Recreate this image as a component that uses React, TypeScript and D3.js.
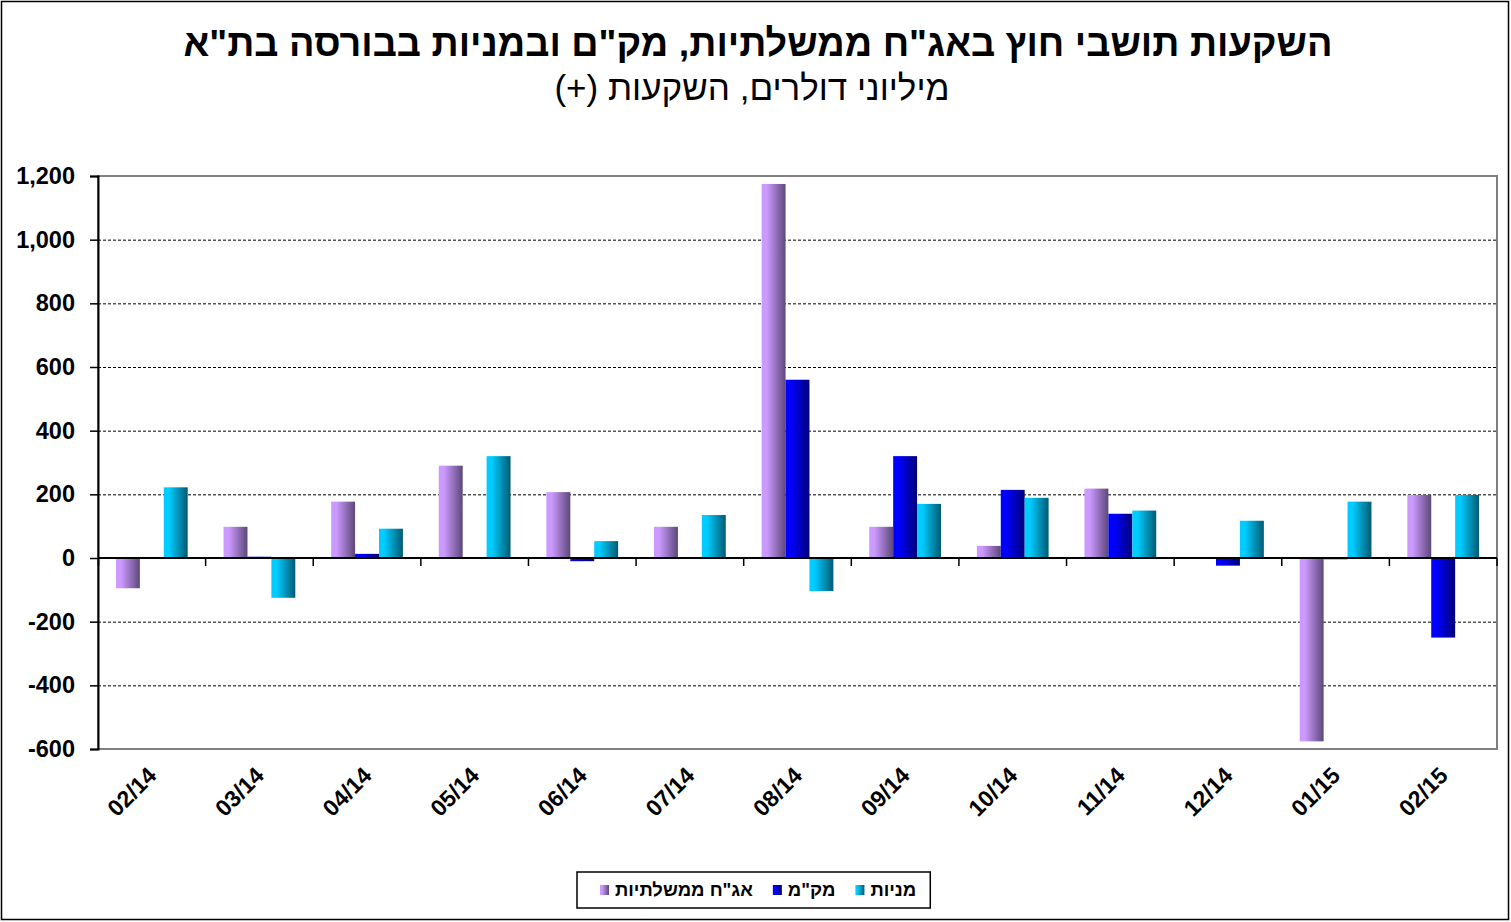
import { useEffect, useRef } from "react";
import * as d3 from "d3";

// Foreign residents' investment in TASE: gov bonds, makam, shares (USD mn)
const MONTHS = ["02/14", "03/14", "04/14", "05/14", "06/14", "07/14", "08/14", "09/14", "10/14", "11/14", "12/14", "01/15", "02/15"];
const GOV_BONDS = [-95, 98, 177, 290, 207, 98, 1175, 98, 38, 218, 3, -576, 198];
const MAKAM = [0, 4, 13, 0, -10, 0, 560, 320, 214, 139, -24, -4, -250];
const SHARES = [222, -125, 92, 320, 53, 135, -104, 170, 189, 149, 117, 177, 198];
const Y_TICKS = [-600, -400, -200, 0, 200, 400, 600, 800, 1000, 1200];

const TITLE = 'השקעות תושבי חוץ באג"ח ממשלתיות, מק"ם ובמניות בבורסה בת"א';
const SUBTITLE = "מיליוני דולרים, השקעות (+)";

const SERIES = [
  { key: "gov", label: 'אג"ח ממשלתיות', values: GOV_BONDS, light: "#cc99ff", dark: "#5c4878" },
  { key: "makam", label: 'מק"מ', values: MAKAM, light: "#0000ff", dark: "#00007a" },
  { key: "shares", label: "מניות", values: SHARES, light: "#00ccff", dark: "#005a72" },
];

const FONT = "'Liberation Sans', Arial, 'DejaVu Sans', sans-serif";

export default function App() {
  const svgRef = useRef<SVGSVGElement | null>(null);

  useEffect(() => {
    const svg = d3.select(svgRef.current);
    svg.selectAll("*").remove();
    const W = 1511;
    const H = 922;
    const plot = { left: 98, right: 1497, top: 176, bottom: 749 };

    svg.attr("viewBox", `0 0 ${W} ${H}`).style("font-family", FONT);

    const defs = svg.append("defs");
    SERIES.forEach((s) => {
      const lg = defs.append("linearGradient").attr("id", `grad-${s.key}`).attr("x1", 0).attr("x2", 1).attr("y1", 0).attr("y2", 0);
      lg.append("stop").attr("offset", "0").attr("stop-color", s.light);
      lg.append("stop").attr("offset", "0.22").attr("stop-color", s.light);
      lg.append("stop").attr("offset", "1").attr("stop-color", s.dark);
    });

    svg.append("rect").attr("width", W).attr("height", H).attr("fill", "#fff");
    svg
      .append("rect")
      .attr("x", 1.5)
      .attr("y", 1.5)
      .attr("width", W - 4)
      .attr("height", H - 4)
      .attr("fill", "none")
      .attr("stroke", "#000")
      .attr("stroke-width", 1.5);

    // titles
    svg
      .append("text")
      .attr("x", 758)
      .attr("y", 56)
      .attr("text-anchor", "middle")
      .attr("direction", "rtl")
      .attr("font-size", 37.8)
      .attr("font-weight", "bold")
      .text(TITLE);
    svg
      .append("text")
      .attr("x", 752)
      .attr("y", 100)
      .attr("text-anchor", "middle")
      .attr("direction", "rtl")
      .attr("font-size", 35)
      .text(SUBTITLE);

    const x = d3.scaleBand<string>().domain(MONTHS).range([plot.left, plot.right]);
    const xs = d3
      .scaleBand<string>()
      .domain(SERIES.map((s) => s.key))
      .range([0, x.bandwidth()])
      .paddingOuter(0.75);
    const y = d3.scaleLinear().domain([-600, 1200]).range([plot.bottom, plot.top]);

    // plot frame (gray top/right/bottom)
    svg
      .append("rect")
      .attr("x", plot.left)
      .attr("y", plot.top)
      .attr("width", plot.right - plot.left)
      .attr("height", plot.bottom - plot.top)
      .attr("fill", "none")
      .attr("stroke", "#808080")
      .attr("stroke-width", 2);

    // grid
    svg
      .append("g")
      .selectAll("line")
      .data(Y_TICKS.filter((t) => t !== 0 && t !== -600 && t !== 1200))
      .join("line")
      .attr("x1", plot.left)
      .attr("x2", plot.right)
      .attr("y1", (d) => y(d) + 0.5)
      .attr("y2", (d) => y(d) + 0.5)
      .attr("stroke", "#000")
      .attr("stroke-width", 1)
      .attr("stroke-dasharray", "3,2");

    // bars
    SERIES.forEach((s) => {
      svg
        .append("g")
        .selectAll("rect")
        .data(s.values.map((v, i) => ({ v, m: MONTHS[i] })))
        .join("rect")
        .attr("x", (d) => x(d.m)! + xs(s.key)!)
        .attr("width", xs.bandwidth())
        .attr("y", (d) => y(Math.max(0, d.v)))
        .attr("height", (d) => Math.abs(y(d.v) - y(0)))
        .attr("fill", `url(#grad-${s.key})`);
    });

    // y axis
    const yAxis = svg
      .append("g")
      .attr("transform", `translate(${plot.left},0)`)
      .call(
        d3
          .axisLeft(y)
          .tickValues(Y_TICKS)
          .tickSize(8)
          .tickPadding(15)
          .tickFormat((v) => d3.format(",")(v as number).replace("\u2212", "-")),
      );
    yAxis.select(".domain").attr("stroke", "#000").attr("stroke-width", 2);
    yAxis.selectAll(".tick line").attr("stroke", "#000").attr("stroke-width", 1.5);
    yAxis
      .selectAll(".tick text")
      .attr("font-size", 23.5)
      .attr("font-weight", "bold")
      .attr("font-family", FONT)
      .attr("fill", "#000");

    // x axis on zero line
    const zeroY = y(0);
    svg
      .append("line")
      .attr("x1", plot.left)
      .attr("x2", plot.right)
      .attr("y1", zeroY)
      .attr("y2", zeroY)
      .attr("stroke", "#000")
      .attr("stroke-width", 2);
    svg
      .append("g")
      .selectAll("line")
      .data(MONTHS)
      .join("line")
      .attr("x1", (d) => x(d)! + x.bandwidth())
      .attr("x2", (d) => x(d)! + x.bandwidth())
      .attr("y1", zeroY)
      .attr("y2", zeroY + 8)
      .attr("stroke", "#000")
      .attr("stroke-width", 1.5);
    svg
      .append("line")
      .attr("x1", plot.left + 0.5)
      .attr("x2", plot.left + 0.5)
      .attr("y1", zeroY)
      .attr("y2", zeroY + 8)
      .attr("stroke", "#000")
      .attr("stroke-width", 1.5);

    // x labels
    svg
      .append("g")
      .selectAll("text")
      .data(MONTHS)
      .join("text")
      .attr("transform", (d) => `translate(${x(d)! + x.bandwidth() / 2 + 6},${plot.bottom + 28}) rotate(-45)`)
      .attr("text-anchor", "end")
      .attr("font-size", 23)
      .attr("font-weight", "bold")
      .text((d) => d);

    // legend
    const legend = svg.append("g");
    const box = legend.append("rect").attr("fill", "#fff").attr("stroke", "#000").attr("stroke-width", 1.5);
    let cx = 0;
    const itemG = legend.append("g");
    SERIES.forEach((s) => {
      const g = itemG.append("g").attr("transform", `translate(${cx},0)`);
      g.append("rect").attr("x", 0).attr("y", -11).attr("width", 9).attr("height", 10).attr("fill", `url(#grad-${s.key})`);
      const t = g
        .append("text")
        .attr("x", 15)
        .attr("y", 0)
        .attr("font-size", 18.5)
        .attr("font-weight", "bold")
        .attr("text-anchor", "start")
        .text(s.label);
      const tw = (t.node() as SVGTextElement).getComputedTextLength();
      cx += 15 + tw + 20;
    });
    const totalW = cx - 20;
    const lx = 600;
    itemG.attr("transform", `translate(${lx},896)`);
    box
      .attr("x", lx - 23)
      .attr("y", 872)
      .attr("width", totalW + 23 + 14)
      .attr("height", 36);
  }, []);

  return (
    <svg
      ref={svgRef}
      width={1511}
      height={922}
      style={{ position: "absolute", left: 0, top: 0, display: "block" }}
    />
  );
}
